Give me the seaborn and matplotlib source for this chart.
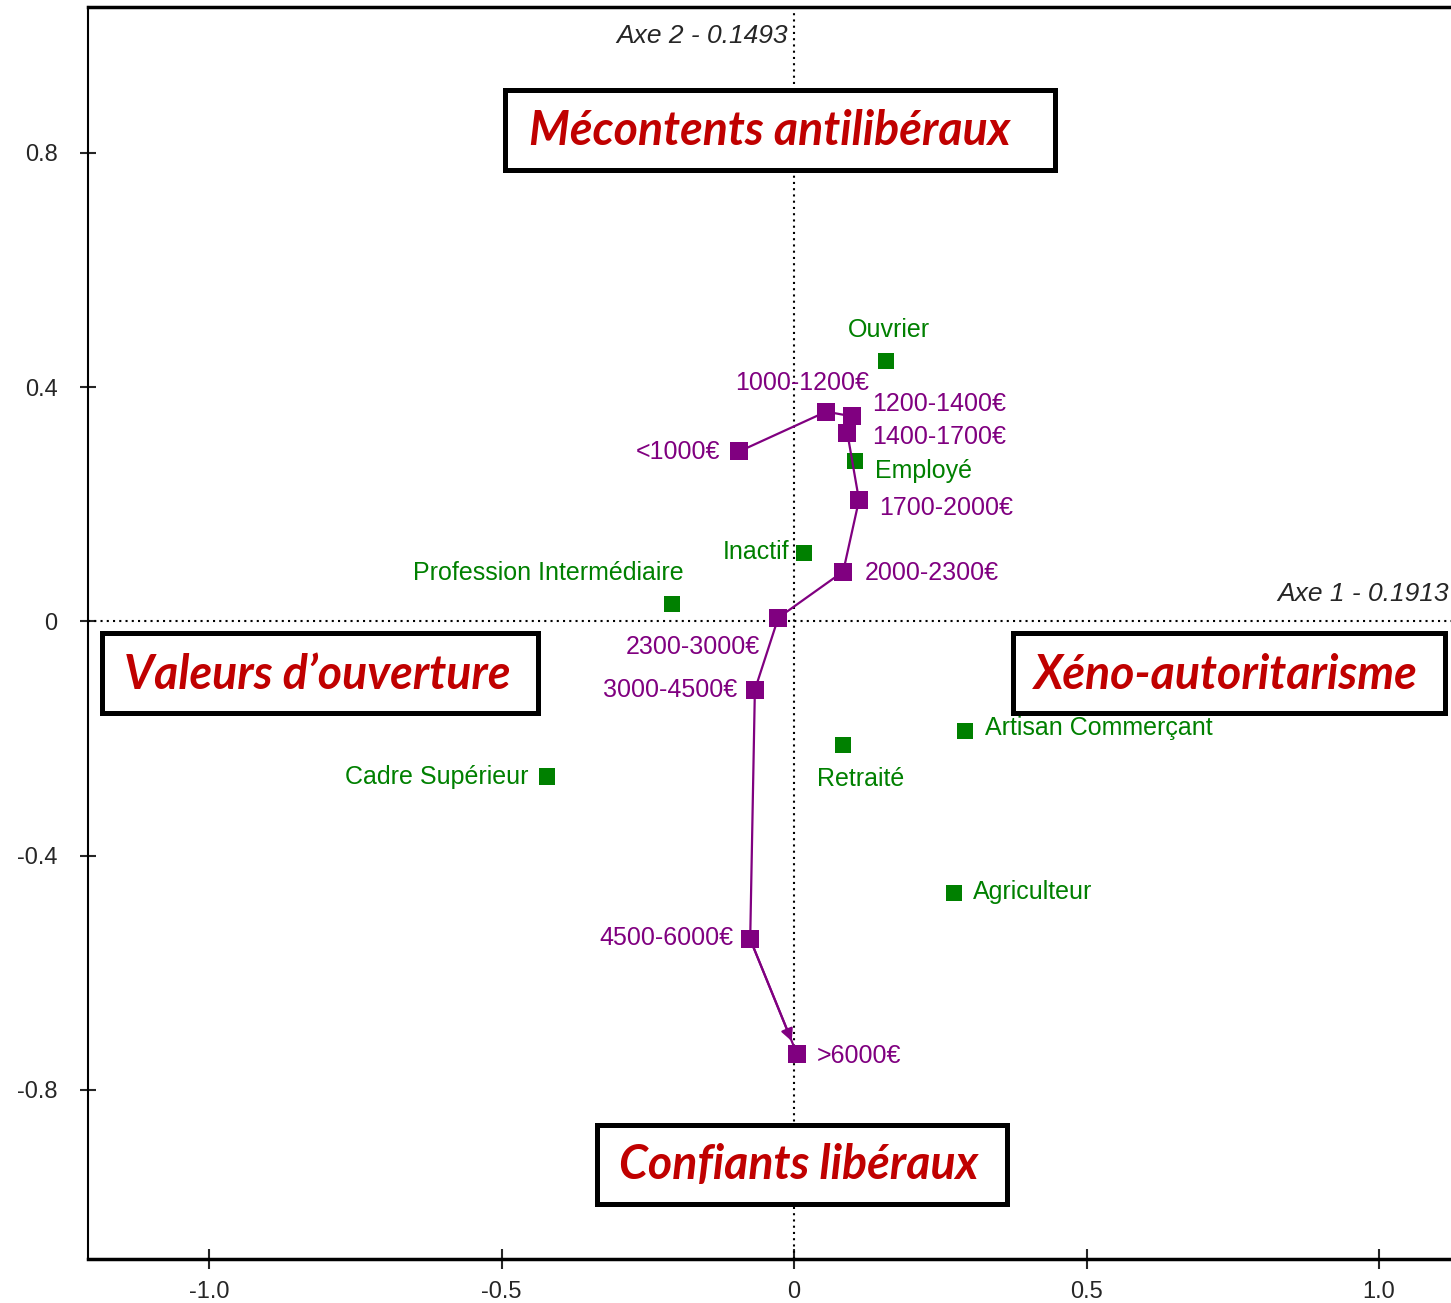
import pandas as pd
import matplotlib.pyplot as plt
import seaborn as sns
from matplotlib.patches import Rectangle

# professions (green)
prof_names = ['Ouvrier', 'Employé', 'Inactif', 'Profession Intermédiaire',
              'Artisan Commerçant', 'Retraité', 'Cadre Supérieur', 'Agriculteur']
prof_x = [0.157, 0.104, 0.017, -0.209, 0.292, 0.084, -0.422, 0.274]
prof_y = [0.445, 0.274, 0.117, 0.030, -0.187, -0.211, -0.265, -0.464]

# revenus (violet), dans l'ordre du trajet
rev_names = ['<1000€', '1000-1200€', '1200-1400€', '1400-1700€', '1700-2000€',
             '2000-2300€', '2300-3000€', '3000-4500€', '4500-6000€', '>6000€']
rev_x = [-0.094, 0.055, 0.099, 0.091, 0.111, 0.084, -0.027, -0.067, -0.075, 0.005]
rev_y = [0.290, 0.358, 0.350, 0.322, 0.207, 0.085, 0.006, -0.117, -0.543, -0.739]

x_ticks = [-1.0, -0.5, 0, 0.5, 1.0]
x_ticklabels = ['-1.0', '-0.5', '0', '0.5', '1.0']
y_ticks = [0.8, 0.4, 0, -0.4, -0.8]
y_ticklabels = ['0.8', '0.4', '0', '-0.4', '-0.8']

pole_names = ['Mécontents antilibéraux', 'Valeurs d’ouverture',
              'Xéno-autoritarisme', 'Confiants libéraux']

GREEN = '#008000'
PURPLE = '#800080'
RED = '#C00000'
FAM = ['Liberation Sans', 'DejaVu Sans']

sns.set_style('white')
plt.rcParams['font.family'] = FAM

fig = plt.figure(figsize=(14.51, 13.03), dpi=100)
ax = fig.add_axes([88 / 1451, 1 - 1259 / 1303, 1 - 88 / 1451, (1259 - 7) / 1303])

ax.axhline(0, color='black', lw=1.5, ls=(0, (1, 2)), zorder=1)
ax.axvline(0, color='black', lw=1.5, ls=(0, (1, 2)), zorder=1)

prof = pd.DataFrame({'x': prof_x, 'y': prof_y, 'nom': prof_names})
rev = pd.DataFrame({'x': rev_x, 'y': rev_y, 'nom': rev_names})

sns.scatterplot(data=prof, x='x', y='y', marker='s', s=135, color=GREEN,
                edgecolor='none', ax=ax, zorder=3)
sns.lineplot(data=rev, x='x', y='y', sort=False, estimator=None, color=PURPLE,
             lw=1.6, marker='s', markersize=13, markeredgewidth=0, ax=ax, zorder=4)

# fleche sur le dernier segment
ax.annotate('', xy=(rev_x[-1], rev_y[-1]), xytext=(rev_x[-2], rev_y[-2]),
            arrowprops=dict(arrowstyle='-|>', color=PURPLE, lw=1.6,
                            shrinkA=0, shrinkB=10, mutation_scale=18), zorder=4)

# placement des etiquettes (pixels)
prof_off = [(3, 31, 'center'), (20, -10, 'left'), (-15, 1, 'right'), (12, 31, 'right'),
            (20, 3, 'left'), (-26, -34, 'left'), (-19, -1, 'right'), (19, 1, 'left')]
rev_off = [(-19, -1, 'right'), (-24, 29, 'center'), (20, 12, 'left'), (25, -4, 'left'),
           (20, -8, 'left'), (22, -1, 'left'), (-18, -29, 'right'), (-18, 0, 'right'),
           (-17, 1, 'right'), (20, -2, 'left')]

for n, x, y, (dx, dy, ha) in zip(prof_names, prof_x, prof_y, prof_off):
    ax.annotate(n, (x, y), xytext=(dx, dy), textcoords='offset pixels',
                ha=ha, va='center', color=GREEN, fontsize=18)
for n, x, y, (dx, dy, ha) in zip(rev_names, rev_x, rev_y, rev_off):
    ax.annotate(n, (x, y), xytext=(dx, dy), textcoords='offset pixels',
                ha=ha, va='center', color=PURPLE, fontsize=18)

# cadres des poles
boxes = [(-0.494, 0.771, 0.940, 0.137), (-1.183, -0.156, 0.745, 0.136),
         (0.374, -0.156, 0.739, 0.136), (-0.337, -0.995, 0.701, 0.135)]
centres = [(-0.041, 0.838), (-0.815, -0.091), (0.738, -0.091), (0.007, -0.928)]
for name, (bx, by, bw, bh), (cx, cy) in zip(pole_names, boxes, centres):
    ax.add_patch(Rectangle((bx, by), bw, bh, fill=True, facecolor='white',
                           edgecolor='black', lw=3.6, zorder=5))
    ax.text(cx, cy, name, ha='center', va='center', color=RED, fontsize=33.5,
            fontweight='bold', fontstyle='italic', family=['Lato', 'DejaVu Sans'],
            zorder=6)

ax.text(-0.01, 0.999, 'Axe 2 - 0.1493', ha='right', va='center', fontsize=19,
        fontstyle='italic')
ax.text(1.119, 0.047, 'Axe 1 - 0.1913', ha='right', va='center', fontsize=19,
        fontstyle='italic')

ax.set_xlim(-1.207, 1.123)
ax.set_ylim(-1.089, 1.049)
ax.set_xticks(x_ticks)
ax.set_xticklabels(x_ticklabels)
ax.set_yticks(y_ticks)
ax.set_yticklabels(y_ticklabels)
ax.set_xlabel('')
ax.set_ylabel('')
ax.tick_params(axis='x', direction='inout', length=15, width=1.5, labelsize=17,
               pad=8, bottom=True)
ax.tick_params(axis='y', direction='inout', length=12, width=1.5, labelsize=17,
               pad=16, left=True)

ax.spines['right'].set_visible(False)
ax.spines['left'].set_linewidth(1.5)
ax.spines['bottom'].set_linewidth(2.5)
ax.spines['top'].set_linewidth(2.5)
for s in ['left', 'bottom', 'top']:
    ax.spines[s].set_color('black')

fig.savefig('out.png', dpi=100)
